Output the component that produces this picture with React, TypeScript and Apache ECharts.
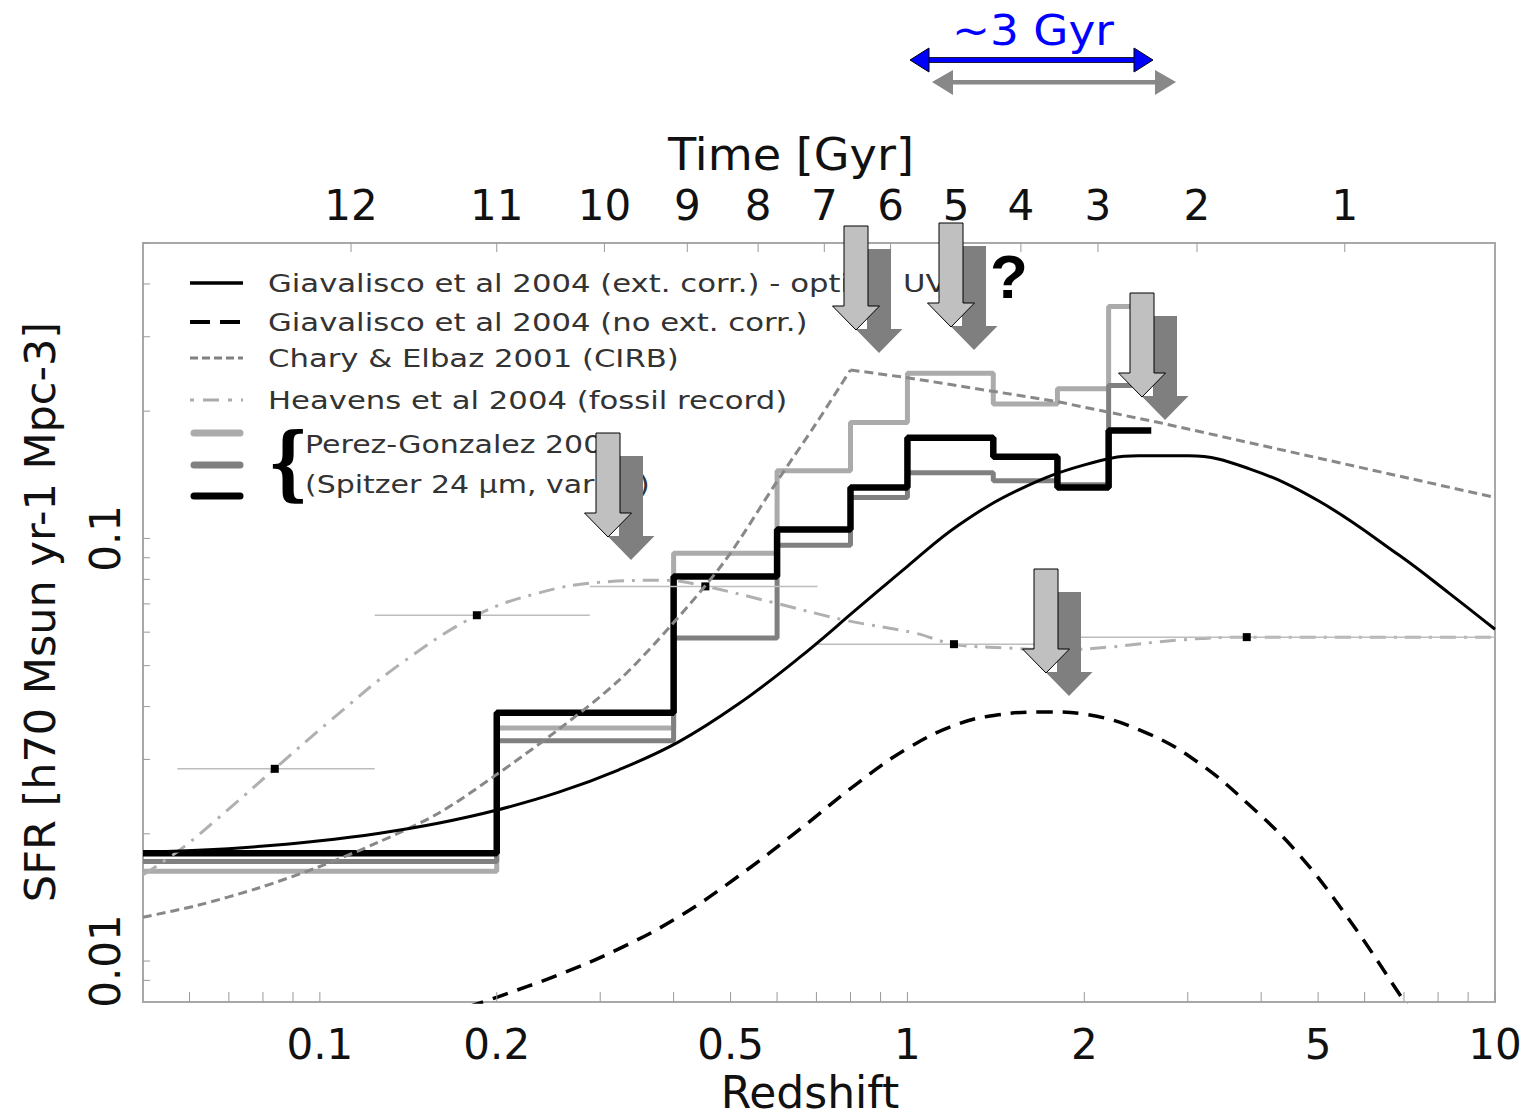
import React, { useEffect, useRef } from "react";
import * as echarts from "echarts";

// Axis ranges (redshift on x, star formation rate density on y)
const X_MIN = 0.05;
const X_MAX = 10;
const Y_MIN = 0.008;
const Y_MAX = 0.5;

// Perez-Gonzalez 2005 binned estimates: bin edges and one value per bin
const pgBinEdges = [0.05, 0.2, 0.4, 0.6, 0.8, 1.0, 1.4, 1.8, 2.2, 2.6];
const pgLight = [0.0163, 0.0356, 0.0922, 0.1446, 0.188, 0.246, 0.208, 0.226, 0.354];
const pgMid = [0.0172, 0.0332, 0.0581, 0.0963, 0.125, 0.143, 0.137, 0.134, 0.23];
const pgDark = [0.018, 0.0387, 0.0813, 0.105, 0.132, 0.173, 0.156, 0.132, 0.18];

// Giavalisco et al 2004, extinction corrected
const giavExt: [number, number][] = [
  [0.05, 0.01807], [0.062, 0.01828], [0.0784, 0.01866], [0.0992, 0.01923], [0.1256, 0.02004],
  [0.1589, 0.02118], [0.1987, 0.0227], [0.2543, 0.02506], [0.322, 0.02831], [0.4073, 0.03296],
  [0.5154, 0.04055], [0.6522, 0.052], [0.8252, 0.06855], [1.0, 0.0859], [1.221, 0.1074],
  [1.546, 0.1303], [1.994, 0.1491], [2.475, 0.1568], [3.011, 0.1568], [3.81, 0.1463],
  [5.014, 0.1226], [6.863, 0.09131], [8.35, 0.07424], [10, 0.06095],
];

// Giavalisco et al 2004, no extinction correction
const giavNoExt: [number, number][] = [
  [0.1787, 0.00779], [0.201, 0.00823], [0.2543, 0.00927], [0.322, 0.01067], [0.4073, 0.0127],
  [0.5154, 0.01587], [0.6522, 0.02037], [0.8252, 0.02644], [1.004, 0.03196], [1.221, 0.0364],
  [1.429, 0.03825], [1.705, 0.03886], [2.034, 0.03825], [2.574, 0.03448], [3.131, 0.02945],
  [3.81, 0.02346], [4.636, 0.01788], [5.64, 0.01256], [6.998, 0.00805], [7.42, 0.0071],
];

// Chary & Elbaz 2001 (CIRB): rising branch up to the break, then the decline
const charyRise: [number, number][] = [
  [0.05, 0.0127], [0.062, 0.01355], [0.0784, 0.01487], [0.0992, 0.01667], [0.1256, 0.01909],
  [0.1589, 0.02234], [0.1987, 0.02746], [0.2543, 0.03525], [0.322, 0.046], [0.3963, 0.0623],
  [0.4897, 0.0887], [0.598, 0.1355], [0.697, 0.1858], [0.8, 0.2504],
];
const charyFall: [number, number][] = [
  [0.8, 0.2504], [1.0, 0.24], [1.79, 0.211], [2.68, 0.188], [10, 0.125],
];

// Heavens et al 2004 (fossil record): smooth curve
const heavensCurve: [number, number][] = [
  [0.05, 0.016], [0.058, 0.0184], [0.0697, 0.0228], [0.0838, 0.0285],
  [0.1036, 0.0368], [0.1364, 0.0502], [0.185, 0.0658], [0.235, 0.0742], [0.2976, 0.0787],
  [0.387, 0.0796], [0.453, 0.077], [0.589, 0.0706], [0.781, 0.0641], [1.03, 0.0597],
  [1.2, 0.0562], [1.46, 0.0551], [1.81, 0.0545], [2.2, 0.0553], [2.9, 0.0575],
  [3.78, 0.0584], [10, 0.0584],
];

// Heavens et al 2004 binned points with redshift ranges
const heavensZ = [0.0838, 0.185, 0.453, 1.2, 3.78];
const heavensSfr = [0.0285, 0.0658, 0.077, 0.0562, 0.0584];
const heavensZLow = [0.0572, 0.124, 0.288, 0.703, 1.8];
const heavensZHigh = [0.124, 0.288, 0.703, 1.8, 10];

// Axis ticks and labels
const xTickValues = [0.06, 0.07, 0.08, 0.09, 0.1, 0.2, 0.3, 0.4, 0.5, 0.6, 0.7, 0.8, 0.9, 1, 2, 3, 4, 5, 6, 7, 8, 9, 10];
const xLabelValues = [0.1, 0.2, 0.5, 1, 2, 5, 10];
const yTickValues = [0.009, 0.01, 0.02, 0.03, 0.04, 0.05, 0.06, 0.07, 0.08, 0.09, 0.1, 0.2, 0.3, 0.4, 0.5];
const yLabelValues = [0.01, 0.1];
const timeLabels = ["12", "11", "10", "9", "8", "7", "6", "5", "4", "3", "2", "1"];
const timeRedshifts = [0.113, 0.2, 0.305, 0.422, 0.557, 0.722, 0.936, 1.21, 1.56, 2.11, 3.11, 5.55];

// Legend entries
const legendTexts = [
  "Giavalisco et al 2004 (ext. corr.) - optical UV",
  "Giavalisco et al 2004 (no ext. corr.)",
  "Chary & Elbaz 2001 (CIRB)",
  "Heavens et al 2004 (fossil record)",
];
const pgLegendTexts = ["Perez-Gonzalez 2005", "(Spitzer 24 \u00b5m, var LF)"];

// Arrow annotations: tip positions of the light arrows (px)
const arrowTips: [number, number][] = [
  [856, 330], [951, 327], [1142, 397], [608, 537], [1046, 673],
];

const FONT = "DejaVu Sans";
const LIGHT = "#ababab";
const MID = "#808080";

function stepData(vals: number[]): [number, number][] {
  return pgBinEdges.map((z, i) => [z, vals[Math.min(i, vals.length - 1)]]);
}

function arrowPoints(tx: number, ty: number): number[][] {
  return [
    [tx - 12, ty - 104], [tx + 12, ty - 104], [tx + 12, ty - 24], [tx + 23.5, ty - 24],
    [tx, ty], [tx - 23.5, ty - 24], [tx - 12, ty - 24],
  ];
}

export default function App() {
  const ref = useRef<HTMLDivElement>(null);

  useEffect(() => {
    if (!ref.current) return;
    const chart = echarts.init(ref.current, undefined, { renderer: "svg" });

    const graphic: any[] = [];

    // arrows: dark shadow arrow behind, outlined light arrow in front
    arrowTips.forEach(([tx, ty]) => {
      graphic.push({
        type: "polygon", z: 100, silent: true,
        shape: { points: arrowPoints(tx + 23, ty + 23) },
        style: { fill: "#7f7f7f" },
      });
      graphic.push({
        type: "polygon", z: 101, silent: true,
        shape: { points: arrowPoints(tx, ty) },
        style: { fill: "#c0c0c0", stroke: "#000", lineWidth: 1 },
      });
    });

    graphic.push({
      type: "text", z: 102, x: 1009, y: 276,
      style: { text: "?", fontSize: 62, fontWeight: "bold", fontFamily: "Liberation Sans", fill: "#000", align: "center", verticalAlign: "middle" },
    });

    // "~3 Gyr" span markers above the plot
    graphic.push({
      type: "text", x: 1033, y: 30, scaleX: 1.08,
      style: { text: "~3 Gyr", fontSize: 42, fontFamily: FONT, fill: "#0000ff", align: "center", verticalAlign: "middle" },
    });
    graphic.push({ type: "rect", shape: { x: 926, y: 57.5, width: 210, height: 5 }, style: { fill: "#0000ff", stroke: "#000", lineWidth: 0.8 } });
    graphic.push({ type: "polygon", shape: { points: [[910, 60], [929, 48], [929, 72]] }, style: { fill: "#0000ff", stroke: "#000", lineWidth: 1 } });
    graphic.push({ type: "polygon", shape: { points: [[1153, 60], [1134, 48], [1134, 72]] }, style: { fill: "#0000ff", stroke: "#000", lineWidth: 1 } });
    graphic.push({ type: "rect", shape: { x: 950, y: 80, width: 208, height: 4.5 }, style: { fill: "#888" } });
    graphic.push({ type: "polygon", shape: { points: [[932, 82], [953, 70], [953, 95]] }, style: { fill: "#888" } });
    graphic.push({ type: "polygon", shape: { points: [[1176, 82], [1155, 70], [1155, 95]] }, style: { fill: "#888" } });

    // axis titles
    graphic.push({
      type: "text", x: 791, y: 155, scaleX: 1.05,
      style: { text: "Time [Gyr]", fontSize: 44, fontFamily: FONT, fill: "#111", align: "center", verticalAlign: "middle" },
    });
    graphic.push({
      type: "text", x: 810, y: 1092,
      style: { text: "Redshift", fontSize: 44, fontFamily: FONT, fill: "#111", align: "center", verticalAlign: "middle" },
    });
    graphic.push({
      type: "text", x: 40, y: 612, rotation: Math.PI / 2,
      style: { text: "SFR [h70 Msun yr-1 Mpc-3]", fontSize: 43, fontFamily: FONT, fill: "#111", align: "center", verticalAlign: "middle" },
    });

    // legend
    const rowY = [283, 322, 358, 400];
    const legendLines = [
      { stroke: "#000", lineWidth: 3.5 },
      { stroke: "#000", lineWidth: 4, lineDash: [20, 10] },
      { stroke: MID, lineWidth: 3, lineDash: [8, 4] },
      { stroke: LIGHT, lineWidth: 3, lineDash: [4, 9, 16, 9] },
    ];
    rowY.forEach((y, i) => {
      graphic.push({ type: "line", shape: { x1: 190, y1: y, x2: 243, y2: y }, style: legendLines[i] });
      graphic.push({
        type: "text", x: 268, y, scaleX: 1.28,
        style: { text: legendTexts[i], fontSize: 24, fontFamily: FONT, fill: "#333", verticalAlign: "middle" },
      });
    });
    [[433, LIGHT], [465, MID], [496, "#000"]].forEach(([y, c]) => {
      graphic.push({
        type: "line", shape: { x1: 194, y1: y as number, x2: 240, y2: y as number },
        style: { stroke: c as string, lineWidth: 7, lineCap: "round" },
      });
    });
    graphic.push({
      type: "text", x: 288, y: 462, scaleX: 0.8,
      style: { text: "{", fontSize: 80, fontWeight: "bold", fontFamily: "DejaVu Serif", fill: "#000", align: "center", verticalAlign: "middle" },
    });
    graphic.push({
      type: "text", x: 305, y: 445, scaleX: 1.25,
      style: { text: pgLegendTexts[0], fontSize: 24, fontFamily: FONT, fill: "#333", verticalAlign: "middle" },
    });
    graphic.push({
      type: "text", x: 305, y: 485, scaleX: 1.25,
      style: { text: pgLegendTexts[1], fontSize: 24, fontFamily: FONT, fill: "#333", verticalAlign: "middle" },
    });

    const textStyle = (text: string) => ({
      text, fontSize: 42, fontFamily: FONT, fill: "#111", align: "center", verticalAlign: "middle",
    });

    const charyStyle = { color: "#888", width: 3, type: [9, 5] };

    const option: any = {
      animation: false,
      backgroundColor: "#fff",
      grid: { left: 143, top: 243, width: 1352, height: 759, show: true, borderColor: "#a8a8a8", borderWidth: 2, backgroundColor: "transparent" },
      xAxis: {
        type: "log", logBase: 10, min: X_MIN, max: X_MAX,
        axisLine: { show: false }, axisTick: { show: false }, axisLabel: { show: false }, splitLine: { show: false },
      },
      yAxis: {
        type: "log", logBase: 10, min: Y_MIN, max: Y_MAX,
        axisLine: { show: false }, axisTick: { show: false }, axisLabel: { show: false }, splitLine: { show: false },
      },
      graphic,
      series: [
        { type: "line", step: "end", data: stepData(pgLight), showSymbol: false, lineStyle: { color: LIGHT, width: 5 }, z: 2 },
        { type: "line", step: "end", data: stepData(pgMid), showSymbol: false, lineStyle: { color: MID, width: 5 }, z: 2 },
        { type: "line", step: "end", data: stepData(pgDark), showSymbol: false, lineStyle: { color: "#000", width: 6.5 }, z: 2 },
        { type: "line", data: heavensCurve, smooth: 0.4, showSymbol: false, lineStyle: { color: "#b0b0b0", width: 3, type: [16, 8, 3, 8] }, z: 3 },
        {
          type: "custom", z: 4, silent: true,
          data: heavensZ.map((z, i) => [z, heavensSfr[i], heavensZLow[i], heavensZHigh[i]]),
          renderItem: (_p: any, api: any) => {
            const v = api.value(1);
            const a = api.coord([api.value(2), v]);
            const b = api.coord([api.value(3), v]);
            const c = api.coord([api.value(0), v]);
            return {
              type: "group",
              children: [
                { type: "line", shape: { x1: a[0], y1: a[1], x2: b[0], y2: b[1] }, style: { stroke: "#bdbdbd", lineWidth: 1.5 } },
                { type: "rect", shape: { x: c[0] - 4, y: c[1] - 4, width: 8, height: 8 }, style: { fill: "#000" } },
              ],
            };
          },
        },
        { type: "line", data: charyRise, smooth: 0.3, showSymbol: false, lineStyle: charyStyle, z: 5 },
        { type: "line", data: charyFall, showSymbol: false, lineStyle: charyStyle, z: 5 },
        { type: "line", data: giavNoExt, smooth: 0.4, showSymbol: false, lineStyle: { color: "#000", width: 3.5, type: [16, 10] }, z: 6 },
        { type: "line", data: giavExt, smooth: 0.4, showSymbol: false, lineStyle: { color: "#000", width: 3 }, z: 6 },
        // bottom axis ticks
        {
          type: "custom", z: 7, silent: true, clip: false,
          data: xTickValues.map((v) => [v, Y_MIN]),
          renderItem: (p: any, api: any) => {
            const cs = p.coordSys;
            const x = api.coord([api.value(0), Y_MIN])[0];
            const yb = cs.y + cs.height;
            return { type: "line", shape: { x1: x, y1: yb, x2: x, y2: yb - 10 }, style: { stroke: "#999", lineWidth: 1 } };
          },
        },
        // bottom axis labels
        {
          type: "custom", z: 7, silent: true, clip: false,
          data: xLabelValues.map((v) => [v, Y_MIN]),
          renderItem: (p: any, api: any) => {
            const cs = p.coordSys;
            const v = api.value(0);
            const x = api.coord([v, Y_MIN])[0];
            return { type: "text", x, y: cs.y + cs.height + 42, style: textStyle(String(v)) };
          },
        },
        // top (time) axis ticks and labels
        {
          type: "custom", z: 7, silent: true, clip: false,
          data: timeRedshifts.map((v) => [v, Y_MAX]),
          renderItem: (p: any, api: any) => {
            const cs = p.coordSys;
            const x = api.coord([api.value(0), Y_MAX])[0];
            return {
              type: "group",
              children: [
                { type: "line", shape: { x1: x, y1: cs.y, x2: x, y2: cs.y + 9 }, style: { stroke: "#999", lineWidth: 1 } },
                { type: "text", x, y: cs.y - 38, style: textStyle(timeLabels[p.dataIndex]) },
              ],
            };
          },
        },
        // left axis ticks
        {
          type: "custom", z: 7, silent: true, clip: false,
          data: yTickValues.map((v) => [X_MIN, v]),
          renderItem: (p: any, api: any) => {
            const cs = p.coordSys;
            const y = api.coord([X_MIN, api.value(1)])[1];
            return { type: "line", shape: { x1: cs.x, y1: y, x2: cs.x + 7, y2: y }, style: { stroke: "#999", lineWidth: 1 } };
          },
        },
        // left axis labels
        {
          type: "custom", z: 7, silent: true, clip: false,
          data: yLabelValues.map((v) => [X_MIN, v]),
          renderItem: (p: any, api: any) => {
            const cs = p.coordSys;
            const v = api.value(1);
            const y = api.coord([X_MIN, v])[1];
            return { type: "text", x: cs.x - 38, y, rotation: Math.PI / 2, style: textStyle(String(v)) };
          },
        },
      ],
    };

    chart.setOption(option);
    return () => chart.dispose();
  }, []);

  return (
    <div
      ref={ref}
      style={{ position: "fixed", left: 0, top: 0, width: 1537, height: 1119, background: "#fff" }}
    />
  );
}
